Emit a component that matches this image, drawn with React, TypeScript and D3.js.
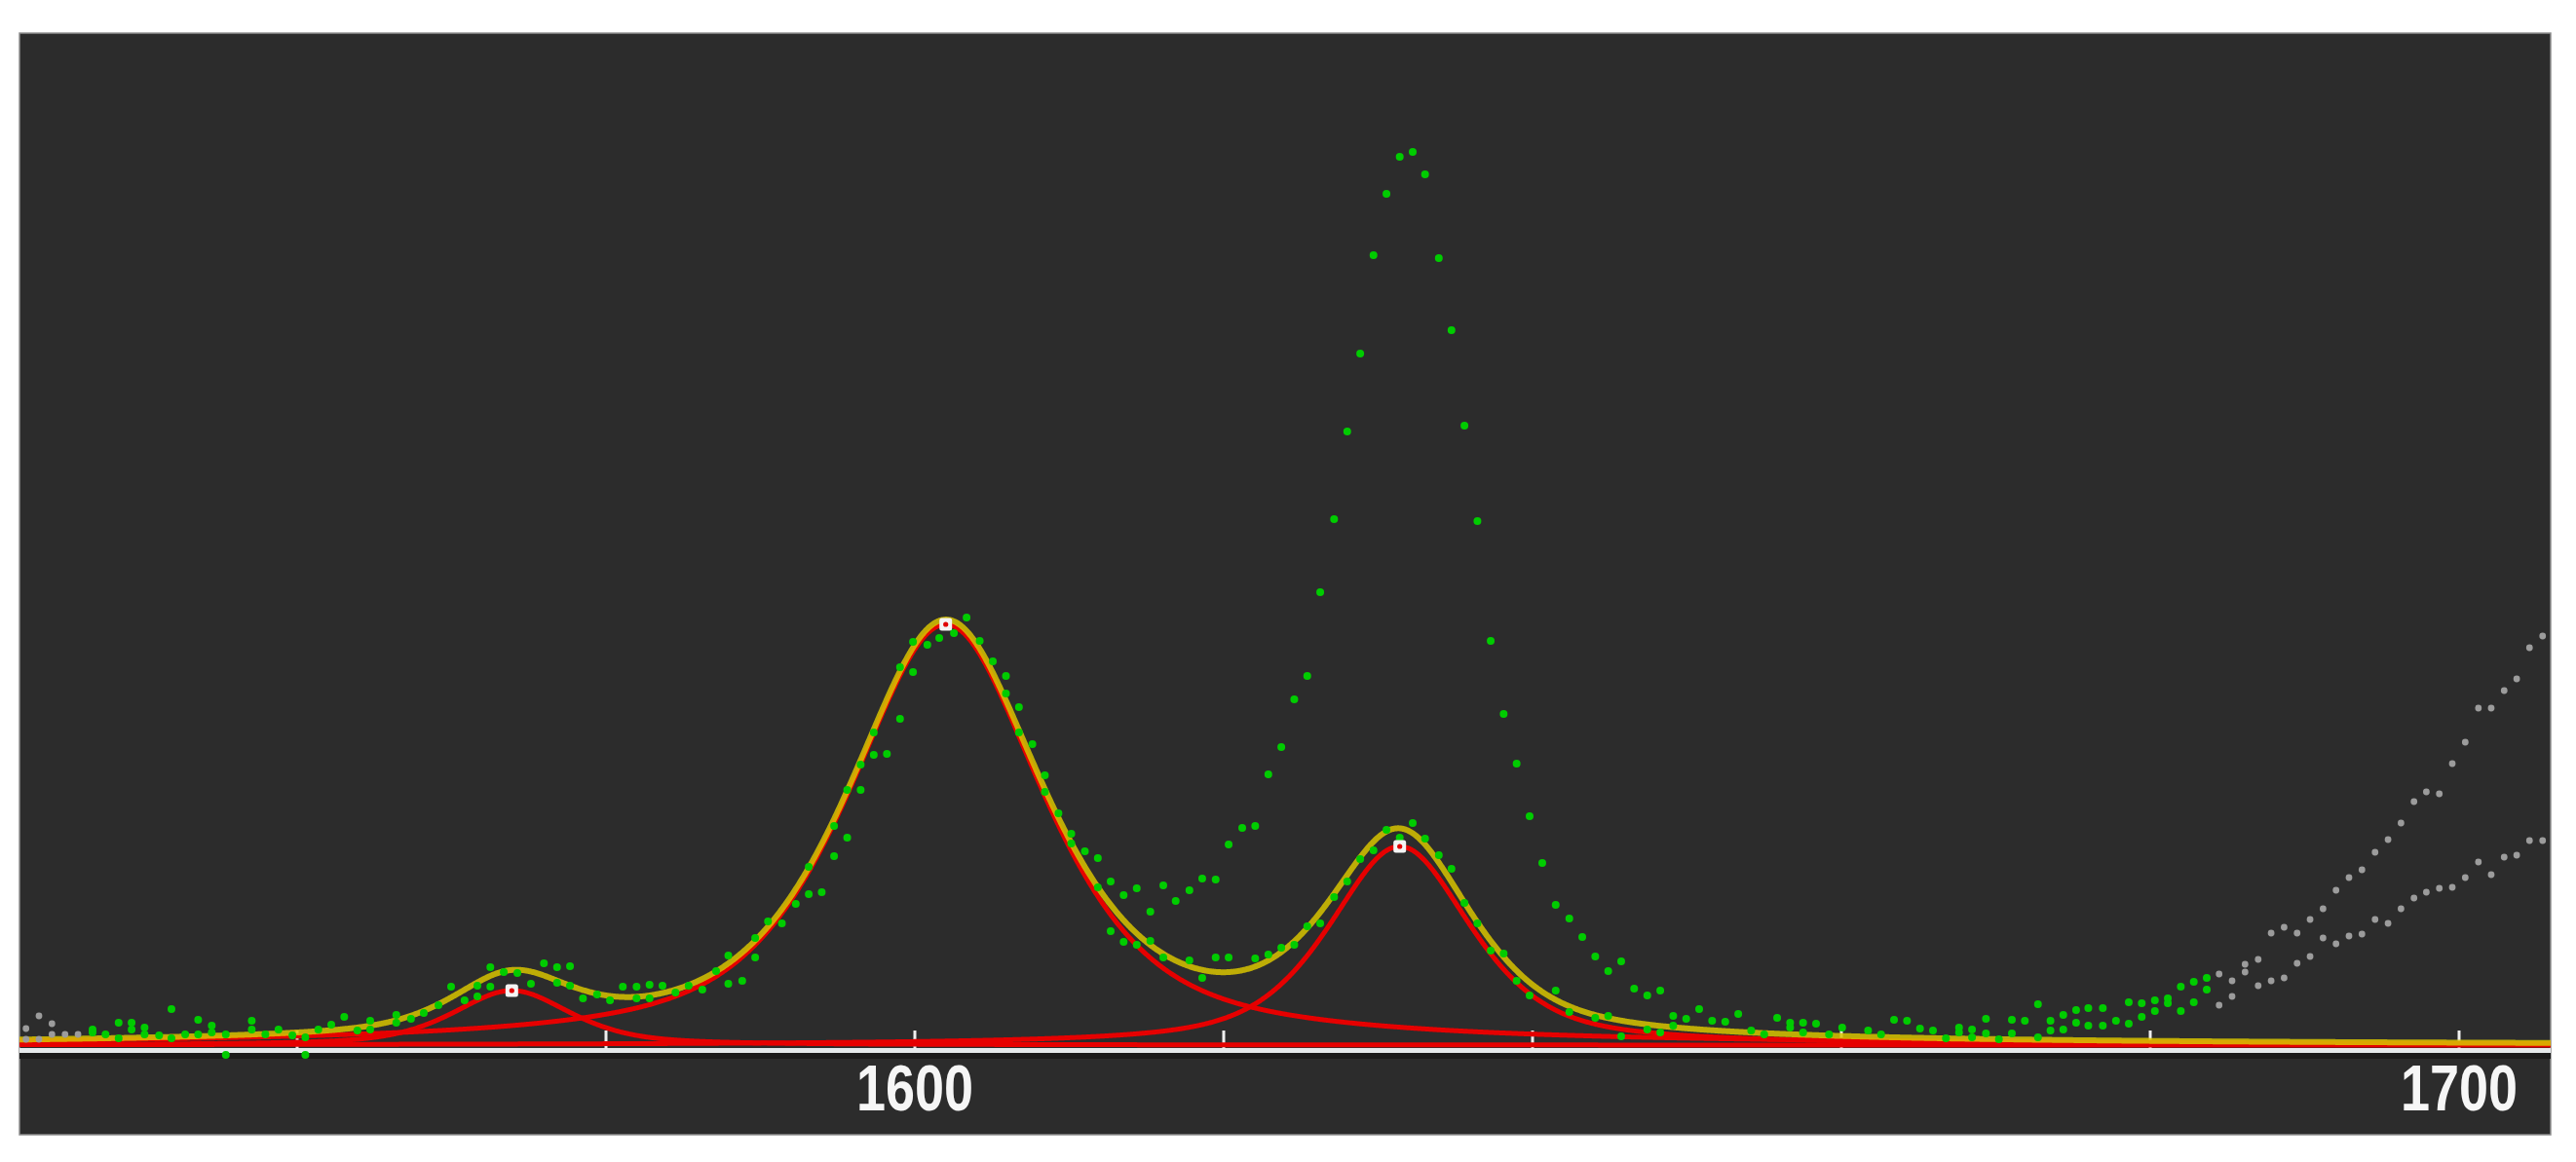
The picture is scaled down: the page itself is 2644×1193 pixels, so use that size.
import React from "react";
import * as d3 from "d3";

// ---- measured spectrum points: [wavenumber (cm-1), intensity (a.u.)] ----
const spectrum: [number, number][] = [
  [1542.44, 17], [1542.44, 6], [1543.28, 30], [1543.28, 6], [1544.12, 22], [1544.12, 11],
  [1544.97, 11], [1545.81, 11], [1546.75, 16], [1546.75, 13], [1547.59, 11], [1548.44, 23],
  [1548.44, 7], [1549.28, 23], [1549.28, 16], [1550.12, 18], [1550.12, 11], [1551.06, 10],
  [1551.86, 37], [1551.86, 7], [1552.75, 11], [1553.59, 26], [1553.59, 11], [1554.47, 20],
  [1554.47, 13], [1555.38, 11], [1555.38, -10], [1557.06, 25], [1557.06, 16], [1557.94, 11],
  [1558.79, 16], [1559.69, 10], [1560.53, 8], [1560.53, -10], [1561.37, 16], [1562.21, 21],
  [1563.05, 29], [1563.9, 15], [1564.73, 25], [1564.73, 16], [1566.42, 31], [1566.42, 23],
  [1567.37, 27], [1568.2, 33], [1569.15, 41], [1569.97, 60], [1570.84, 46], [1571.67, 61],
  [1571.67, 50], [1572.51, 80], [1572.51, 60], [1573.38, 75], [1574.26, 74], [1575.14, 63],
  [1575.98, 84], [1576.83, 80], [1576.83, 64], [1577.67, 81], [1577.67, 61], [1578.51, 48],
  [1579.42, 52], [1580.26, 46], [1581.09, 60], [1581.98, 60], [1581.98, 48], [1582.82, 62],
  [1582.82, 48], [1583.66, 61], [1584.5, 54], [1585.35, 61], [1586.24, 57], [1587.13, 76],
  [1587.92, 92], [1587.92, 63], [1588.82, 66], [1589.66, 110], [1589.66, 90], [1590.49, 127],
  [1591.39, 125], [1592.29, 145], [1593.13, 183], [1593.13, 155], [1593.97, 157], [1594.77, 194],
  [1594.77, 225], [1595.62, 213], [1595.62, 262], [1596.49, 262], [1596.49, 288], [1597.34, 298],
  [1597.34, 321], [1598.19, 299], [1599.04, 335], [1599.04, 388], [1599.88, 383], [1599.88, 414],
  [1600.81, 411], [1601.58, 418], [1602.53, 423], [1603.35, 439], [1604.2, 415], [1605.05, 394],
  [1605.9, 379], [1605.9, 361], [1606.74, 347], [1606.74, 321], [1607.61, 309], [1608.42, 277],
  [1608.42, 260], [1609.3, 238], [1610.13, 217], [1610.13, 207], [1611.01, 199], [1611.85, 192],
  [1611.85, 162], [1612.68, 168], [1612.68, 117], [1613.52, 154], [1613.52, 106], [1614.37, 161],
  [1614.37, 103], [1615.25, 137], [1615.25, 107], [1616.09, 164], [1616.09, 90], [1616.89, 148],
  [1617.78, 159], [1617.78, 87], [1618.61, 171], [1618.61, 69], [1619.48, 170], [1619.48, 90],
  [1620.32, 206], [1620.32, 90], [1621.2, 223], [1622.04, 225], [1622.04, 89], [1622.89, 278],
  [1622.89, 93], [1623.73, 306], [1623.73, 100], [1624.57, 355], [1624.57, 103], [1625.41, 379],
  [1625.41, 122], [1626.25, 465], [1626.25, 125], [1627.15, 540], [1627.15, 152], [1628.0, 630],
  [1628.0, 168], [1628.84, 710], [1628.84, 191], [1629.7, 811], [1629.7, 200], [1630.54, 874],
  [1630.54, 221], [1631.4, 912], [1631.4, 213], [1632.24, 917], [1632.24, 228], [1633.04, 894],
  [1633.04, 212], [1633.93, 808], [1633.93, 195], [1634.75, 734], [1634.75, 181], [1635.59, 636],
  [1635.59, 146], [1636.43, 538], [1636.43, 125], [1637.29, 415], [1637.29, 97], [1638.13, 340],
  [1638.13, 94], [1638.97, 289], [1638.97, 66], [1639.81, 235], [1639.81, 51], [1640.63, 187],
  [1641.5, 144], [1641.5, 56], [1642.38, 130], [1642.38, 34], [1643.22, 111], [1644.06, 91],
  [1644.06, 28], [1644.9, 76], [1644.9, 30], [1645.74, 86], [1645.74, 9], [1646.58, 58],
  [1647.43, 51], [1647.43, 16], [1648.27, 56], [1648.27, 13], [1649.11, 30], [1649.11, 20],
  [1649.95, 27], [1650.79, 37], [1651.63, 25], [1652.48, 24], [1653.32, 32], [1654.16, 15],
  [1655.0, 11], [1655.84, 28], [1656.68, 23], [1656.68, 18], [1657.52, 23], [1657.52, 13],
  [1658.36, 22], [1659.2, 11], [1660.05, 18], [1661.73, 15], [1662.57, 11], [1663.41, 26],
  [1664.25, 25], [1665.09, 17], [1665.93, 15], [1666.77, 7], [1667.62, 18], [1667.62, 13],
  [1668.46, 16], [1668.46, 8], [1669.36, 27], [1669.36, 12], [1670.2, 6], [1671.04, 26],
  [1671.04, 12], [1671.88, 25], [1672.73, 42], [1672.73, 8], [1673.54, 25], [1673.54, 15],
  [1674.37, 31], [1674.37, 16], [1675.2, 36], [1675.2, 23], [1675.99, 38], [1675.99, 20],
  [1676.93, 38], [1676.93, 20], [1677.78, 25], [1678.61, 44], [1678.61, 22], [1679.45, 43],
  [1679.45, 29], [1680.3, 46], [1680.3, 35], [1681.14, 48], [1681.14, 43], [1681.98, 60],
  [1681.98, 35], [1682.82, 65], [1682.82, 44], [1683.66, 69], [1683.66, 57],
  [1684.46, 73], [1684.46, 41], [1685.3, 66], [1685.3, 50], [1686.14, 83], [1686.14, 75],
  [1686.99, 88], [1686.99, 61], [1687.83, 115], [1687.83, 66], [1688.67, 121], [1688.67, 69],
  [1689.51, 115], [1689.51, 84], [1690.35, 129], [1690.35, 91], [1691.19, 140], [1691.19, 110],
  [1692.03, 159], [1692.03, 104], [1692.87, 172], [1692.87, 112], [1693.71, 180], [1693.71, 114],
  [1694.56, 198], [1694.56, 129], [1695.4, 211], [1695.4, 125], [1696.24, 228], [1696.24, 140],
  [1697.08, 250], [1697.08, 151], [1697.88, 260], [1697.88, 157], [1698.72, 258], [1698.72, 161],
  [1699.56, 289], [1699.56, 162], [1700.4, 311], [1700.4, 172], [1701.25, 346], [1701.25, 188],
  [1702.08, 346], [1702.08, 175], [1702.92, 364], [1702.92, 193], [1703.73, 376], [1703.73, 195],
  [1704.56, 408], [1704.56, 210], [1705.41, 420], [1705.41, 210],
];

// ---- fit window (points inside drawn green, outside grey) ----
const fitRange = [1546.3, 1684.0];

// ---- fitted pseudo-Voigt components ----
const peakCenters = [1573.9, 1602.0, 1631.4];
const peakHeights = [56, 432, 204];
const peakHwhm = [4.5, 7.6, 5.5];
const peakEta = [0.55, 0.68, 0.6];

// ---- axis ----
const xTicks = [1560, 1580, 1600, 1620, 1640, 1660, 1680, 1700];
const xLabels = [1600, 1700];

const W = 2644;
const H = 1193;
const plot = { left: 20, top: 34, right: 2618, bottom: 1165 };

function component(i: number, x: number): number {
  const d = (x - peakCenters[i]) / peakHwhm[i];
  const lor = 1 / (1 + d * d);
  const gau = Math.exp(-Math.LN2 * d * d);
  return peakHeights[i] * (peakEta[i] * lor + (1 - peakEta[i]) * gau);
}

export default function App() {
  const x = d3.scaleLinear().domain([1600, 1700]).range([939, 2524]);
  const y = d3.scaleLinear().domain([0, 1039]).range([1073, 34]);

  const x0 = x.invert(plot.left);
  const x1 = x.invert(plot.right);
  const grid = d3.range(x0, x1 + 0.05, 0.05);

  const line = d3
    .line<[number, number]>()
    .x((d) => x(d[0]))
    .y((d) => y(d[1]))
    .curve(d3.curveLinear);

  const compPaths = peakCenters.map((_, i) =>
    line(grid.map((g) => [g, component(i, g)] as [number, number]))
  );
  const totalPath = line(
    grid.map(
      (g) =>
        [g, peakCenters.reduce((s, _, i) => s + component(i, g), 0)] as [number, number]
    )
  );

  return (
    <svg
      width={W}
      height={H}
      style={{ position: "absolute", left: 0, top: 0, background: "#ffffff" }}
    >
      <defs>
        <clipPath id="plotClip">
          <rect
            x={plot.left}
            y={plot.top}
            width={plot.right - plot.left}
            height={plot.bottom - plot.top}
          />
        </clipPath>
      </defs>
      <rect x={0} y={0} width={W} height={H} fill="#ffffff" />
      <rect
        x={plot.left}
        y={plot.top}
        width={plot.right - plot.left}
        height={plot.bottom - plot.top}
        fill="#2c2c2c"
        stroke="#8e8e8e"
        strokeWidth={1.5}
      />
      <g clipPath="url(#plotClip)">
        <rect x={plot.left} y={1081} width={plot.right - plot.left} height={6} fill="#1c1c1c" />
        <rect x={plot.left} y={1076} width={plot.right - plot.left} height={5} fill="#e6eaec" />
        {xTicks.map((t) => (
          <rect key={t} x={x(t) - 1.5} y={1058} width={3} height={19} fill="#f0f0f0" />
        ))}
        {compPaths.map((p, i) => (
          <path key={i} d={p || ""} fill="none" stroke="#e60000" strokeWidth={5} strokeLinejoin="round" />
        ))}
        <path
          d={totalPath || ""}
          fill="none"
          stroke="#d8c400"
          strokeOpacity={0.85}
          strokeWidth={6}
          strokeLinejoin="round"
        />
        {spectrum.map((d, i) => {
          const inFit = d[0] >= fitRange[0] && d[0] <= fitRange[1];
          return (
            <circle
              key={i}
              cx={x(d[0])}
              cy={y(d[1])}
              r={inFit ? 4 : 3.4}
              fill={inFit ? "#00cc00" : "#9c9c9c"}
            />
          );
        })}
        {peakCenters.map((c, i) => (
          <g key={i} transform={`translate(${x(c)},${y(peakHeights[i])})`}>
            <rect x={-6.5} y={-6.5} width={13} height={13} rx={2.5} fill="#f4f4f4" />
            <circle r={2.6} fill="#e00000" />
          </g>
        ))}
      </g>
      {xLabels.map((t) => (
        <text
          key={t}
          x={x(t)}
          y={1140}
          textAnchor="middle"
          fontFamily="'Liberation Sans', Arial, sans-serif"
          fontSize={66}
          fontWeight="bold"
          fill="#f6f6f6"
          textLength={120}
          lengthAdjust="spacingAndGlyphs"
        >
          {t}
        </text>
      ))}
    </svg>
  );
}
